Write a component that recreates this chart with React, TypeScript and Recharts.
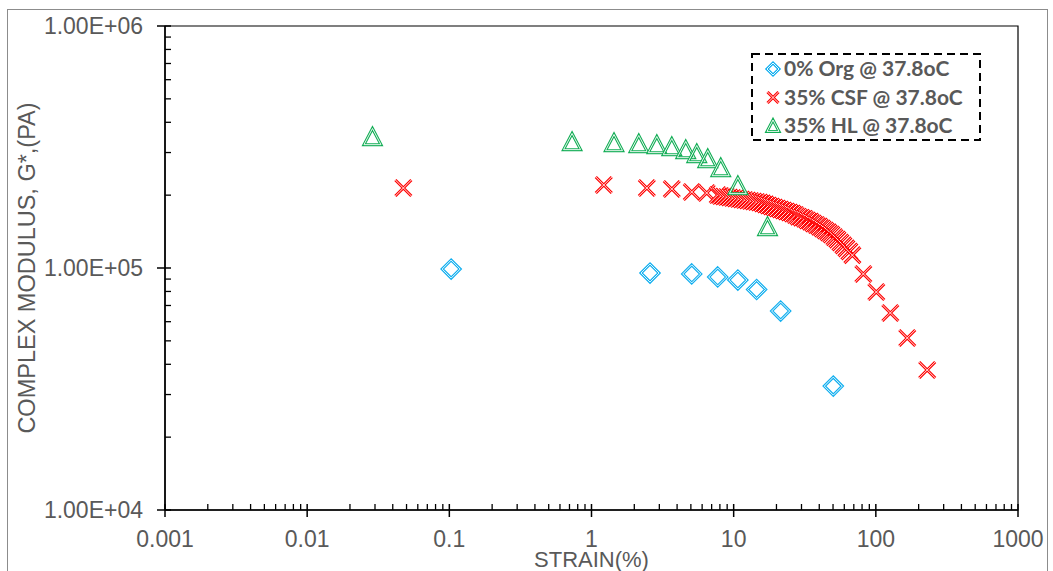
import React from 'react';
import { ScatterChart, Scatter, XAxis, YAxis, ReferenceArea, Legend } from 'recharts';

// 0% Org @ 37.8oC
const orgStrain = [0.103, 2.58, 5.07, 7.72, 10.7, 14.5, 21.4, 50.2];
const orgModulus = [99000, 95300, 94500, 91800, 89200, 81500, 66400, 32500];

// 35% CSF @ 37.8oC
const csfStrain = [
  0.0475, 1.22, 2.45, 3.67, 5.07, 6.46, 7.72,
  8.11, 8.51, 8.93, 9.37, 9.84, 10.33, 10.84, 11.38, 11.95, 12.54,
  13.16, 13.82, 14.5, 15.22, 15.98, 16.77, 17.6, 18.48, 19.4, 20.36,
  21.37, 22.43, 23.55, 24.72, 25.94, 27.23, 28.58, 30.0, 31.49, 33.06,
  34.7, 36.42, 38.23, 40.13, 42.12, 44.21, 46.42, 48.72, 51.14, 53.68,
  56.35, 59.14, 62.08, 65.16, 68.4,
  81.7, 100.8, 126.5, 166.4, 229.8,
];
const csfModulus = [
  214100, 220300, 214100, 212100, 206100, 204200, 200300,
  198400, 197400, 196500, 195600, 194700, 193700, 192800, 191900, 191000, 190100,
  189200, 188300, 187400, 186500, 185000, 183100, 181300, 179600, 177900, 176200,
  174500, 172900, 171200, 169600, 168000, 165600, 162900, 161400, 159700, 157100,
  155400, 152800, 150600, 148200, 145600, 142900, 140300, 137600, 134200, 131000,
  127500, 124000, 120500, 117000, 113000,
  94500, 79600, 65200, 51400, 37900,
];

// 35% HL @ 37.8oC
const hlStrain = [0.0288, 0.73, 1.44, 2.15, 2.88, 3.67, 4.6, 5.5, 6.57, 8.11, 10.7, 17.3];
const hlModulus = [347800, 331700, 328500, 325400, 322300, 316200, 307300, 295900, 282000, 258900, 218200, 147700];

const seriesNames = ['0% Org @ 37.8oC', '35% CSF @ 37.8oC', '35% HL @ 37.8oC'];

const xMajorTicks = [0.001, 0.01, 0.1, 1, 10, 100, 1000];
const xTickLabels = ['0.001', '0.01', '0.1', '1', '10', '100', '1000'];
const yMajorTicks = [10000, 100000, 1000000];
const yTickLabels = ['1.00E+04', '1.00E+05', '1.00E+06'];
const minorSteps = [2, 3, 4, 5, 6, 7, 8, 9];

const xTicks = [...xMajorTicks, ...xMajorTicks.slice(0, -1).flatMap((d) => minorSteps.map((k) => d * k))];
const yTicks = [...yMajorTicks, ...yMajorTicks.slice(0, -1).flatMap((d) => minorSteps.map((k) => d * k))];

const ORG = '#12AFEF';
const CSF = '#FF0000';
const HL = '#12AD55';
const GREY = '#595959';
const AXIS_FONT = '"Liberation Sans", Arial, sans-serif';

const toPoints = (xs: number[], ys: number[]) => xs.map((x, i) => ({ x, y: ys[i] }));
const orgData = toPoints(orgStrain, orgModulus);
const csfData = toPoints(csfStrain, csfModulus);
const hlData = toPoints(hlStrain, hlModulus);

const majorIndex = (list: number[], v: number) => list.findIndex((t) => Math.abs(t - v) / t < 1e-9);

// markers drawn twice (colour then thin white) to get Excel's double outline
const DoubleStroke = ({ d, color }: { d: string; color: string }) => (
  <g>
    <path d={d} fill="none" stroke={color} strokeWidth={3} />
    <path d={d} fill="none" stroke="#fff" strokeWidth={0.9} />
  </g>
);

const diamondPath = (cx: number, cy: number, r: number) =>
  `M${cx},${cy - r}L${cx + r},${cy}L${cx},${cy + r}L${cx - r},${cy}Z`;
const crossPath = (cx: number, cy: number, r: number) =>
  `M${cx - r},${cy - r}L${cx + r},${cy + r}M${cx - r},${cy + r}L${cx + r},${cy - r}`;
const trianglePath = (cx: number, cy: number, r: number) =>
  `M${cx},${cy - r}L${cx + r},${cy + r * 0.9}L${cx - r},${cy + r * 0.9}Z`;

const DiamondShape = (p: any) => <DoubleStroke d={diamondPath(p.cx, p.cy, 9)} color={ORG} />;
const CrossShape = (p: any) => <DoubleStroke d={crossPath(p.cx, p.cy, 8)} color={CSF} />;
const TriangleShape = (p: any) => <DoubleStroke d={trianglePath(p.cx, p.cy, 8.5)} color={HL} />;

const XTick = (props: any) => {
  const { x, y, payload } = props;
  const i = majorIndex(xMajorTicks, payload.value);
  if (i < 0) return <line x1={x} x2={x} y1={y - 6} y2={y} stroke="#000" strokeWidth={1.3} />;
  return (
    <g>
      <line x1={x} x2={x} y1={y - 6} y2={y + 7} stroke="#000" strokeWidth={1.5} />
      <text x={x} y={y + 37} textAnchor="middle" fill={GREY} fontSize={23} fontFamily={AXIS_FONT}>
        {xTickLabels[i]}
      </text>
    </g>
  );
};

const YTick = (props: any) => {
  const { x, y, payload } = props;
  const i = majorIndex(yMajorTicks, payload.value);
  if (i < 0) return <line x1={x} x2={x + 6} y1={y} y2={y} stroke="#000" strokeWidth={1.3} />;
  return (
    <g>
      <line x1={x - 8} x2={x + 6} y1={y} y2={y} stroke="#000" strokeWidth={1.5} />
      <text x={x - 22} y={y + 8} textAnchor="end" fill={GREY} fontSize={23} fontFamily={AXIS_FONT}>
        {yTickLabels[i]}
      </text>
    </g>
  );
};

const LegendBox = () => {
  const rows = [
    (cx: number, cy: number) => <DoubleStroke d={diamondPath(cx, cy, 6)} color={ORG} />,
    (cx: number, cy: number) => <DoubleStroke d={crossPath(cx, cy, 5.5)} color={CSF} />,
    (cx: number, cy: number) => <DoubleStroke d={trianglePath(cx, cy, 6)} color={HL} />,
  ];
  return (
    <svg width={232} height={90} style={{ display: 'block' }}>
      <rect x={1} y={1} width={228} height={86} fill="#fff" stroke="#000" strokeWidth={2} strokeDasharray="8 5" />
      {seriesNames.map((name, i) => (
        <g key={name}>
          {rows[i](22, 16 + i * 28.5)}
          <text
            x={33}
            y={23 + i * 28.5}
            fill={GREY}
            fontSize={21}
            fontWeight={700}
            fontFamily="Lato, 'Open Sans', sans-serif"
          >
            {name}
          </text>
        </g>
      ))}
    </svg>
  );
};

export default function App() {
  return (
    <div style={{ position: 'fixed', left: 0, top: 0, width: 1053, height: 571, overflow: 'hidden', background: '#fff' }}>
      <div
        style={{
          position: 'absolute',
          left: 7,
          top: 9,
          width: 1041,
          height: 620,
          border: '1.5px solid #8c8c8c',
          boxSizing: 'border-box',
        }}
      />
      <div style={{ position: 'absolute', left: 0, top: 0 }}>
        <ScatterChart width={1053} height={571} margin={{ top: 26, right: 35, bottom: 0, left: 0 }}>
          <XAxis
            type="number"
            dataKey="x"
            scale="log"
            domain={[0.001, 1000]}
            ticks={xTicks}
            interval={0}
            tickSize={0}
            tickMargin={0}
            tick={XTick}
            height={61}
            allowDataOverflow
            axisLine={{ stroke: '#000', strokeWidth: 1.5 }}
            label={({ viewBox }: any) => (
              <text
                x={viewBox.x + viewBox.width / 2}
                y={viewBox.y + 57}
                textAnchor="middle"
                fill={GREY}
                fontSize={22}
                fontFamily={AXIS_FONT}
              >
                STRAIN(%)
              </text>
            )}
          />
          <YAxis
            type="number"
            dataKey="y"
            scale="log"
            domain={[10000, 1000000]}
            ticks={yTicks}
            interval={0}
            tickSize={0}
            tickMargin={0}
            tick={YTick}
            width={165}
            allowDataOverflow
            axisLine={{ stroke: '#000', strokeWidth: 1.5 }}
            label={({ viewBox }: any) => {
              const cx = 35;
              const cy = viewBox.y + viewBox.height / 2;
              return (
                <text
                  x={cx}
                  y={cy}
                  transform={`rotate(-90, ${cx}, ${cy})`}
                  textAnchor="middle"
                  fill={GREY}
                  fontSize={23.5}
                  fontFamily={AXIS_FONT}
                >
                  COMPLEX MODULUS, G*,(PA)
                </text>
              );
            }}
          />
          <ReferenceArea
            x1={0.001}
            x2={1000}
            y1={10000}
            y2={1000000}
            fill="none"
            fillOpacity={0}
            stroke="#000"
            strokeWidth={1.2}
            ifOverflow="visible"
          />
          <Legend
            layout="horizontal"
            align="center"
            verticalAlign="middle"
            content={LegendBox}
            wrapperStyle={{ left: 751, top: 53, width: 232, height: 90 }}
          />
          <Scatter name={seriesNames[0]} data={orgData} shape={DiamondShape} isAnimationActive={false} />
          <Scatter name={seriesNames[1]} data={csfData} shape={CrossShape} isAnimationActive={false} />
          <Scatter name={seriesNames[2]} data={hlData} shape={TriangleShape} isAnimationActive={false} />
        </ScatterChart>
      </div>
    </div>
  );
}
